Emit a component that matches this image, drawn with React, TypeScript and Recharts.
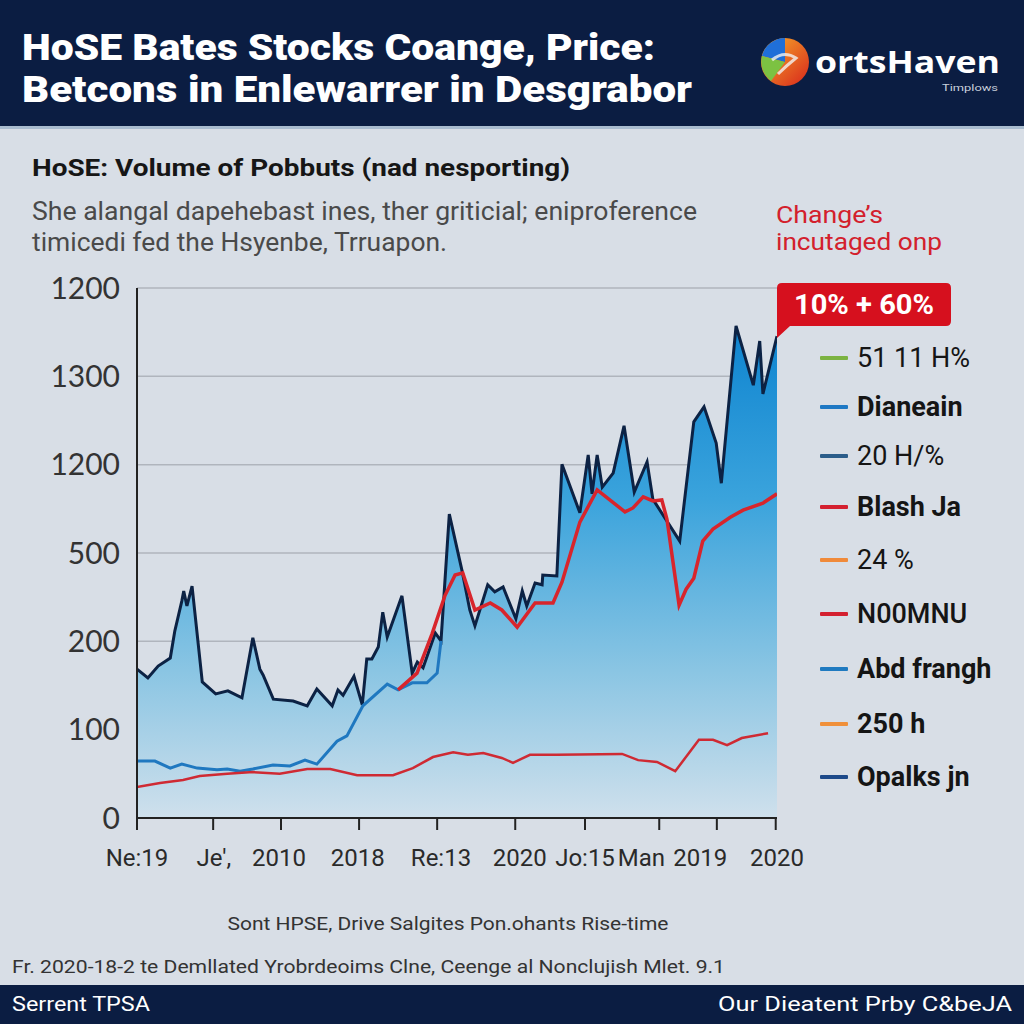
import React from "react";
import { ComposedChart, Area, Line, XAxis, YAxis, CartesianGrid, Legend } from "recharts";

// ---- data ----
const navyT = [0,1.7,3.3,5.2,5.9,7.0,7.3,7.8,8.6,10.2,12.3,14.2,16.4,18.1,19.2,19.7,21.3,24.4,26.6,28.1,30.5,31.4,32.2,33.9,35.2,35.9,36.7,37.7,38.4,39.1,41.4,43.0,43.8,44.7,46.6,47.5,48.8,50.8,52.0,52.8,54.8,55.9,57.2,59.2,60.2,60.9,62.2,63.3,63.4,65.6,66.4,69.2,70.5,71.1,71.9,72.7,74.4,76.1,77.7,79.7,80.6,84.8,87.0,88.6,90.5,91.3,93.6,96.3,97.3,97.8,100];
const navyV = [337,317,344,362,423,491,514,480,525,308,281,288,272,408,337,324,269,265,254,292,254,290,278,321,256,360,360,387,466,410,503,328,353,340,419,401,688,559,471,435,528,512,523,451,514,480,532,528,550,548,801,691,822,734,822,749,781,888,738,806,722,627,897,931,849,758,1114,980,1080,960,1091];

const blueT = [0,2.8,5.2,7.0,9.4,12.5,14.1,16.1,18.1,21.25,23.9,26.25,28.1,31.25,32.8,35.3,39.1,40.8,43.0,45.3,46.9,47.5];
const blueV = [129,129,113,122,113,109,111,106,111,120,118,131,122,174,186,254,303,290,306,306,328,401];

const redT = [40.8,43.75,46.1,48.1,49.7,50.9,52.8,55.2,57.0,59.4,62.2,65.0,66.4,69.2,71.9,76.25,77.5,79.1,80.6,82.0,82.8,84.7,85.8,87.0,88.4,90.0,92.7,94.7,97.8,100];
const redV = [290,328,417,503,550,555,471,487,471,432,487,487,534,670,743,693,702,727,718,720,677,482,518,543,627,654,681,697,713,734];

const lowRedT = [0,3.6,7.2,9.8,14.1,18.1,22.3,26.6,30.2,34.4,36.9,40.0,43.1,46.25,49.4,51.7,54.1,57.0,58.75,61.4,65.6,75.8,78.3,81.25,84.1,87.8,90.0,92.2,94.5,98.6];
const lowRedV = [70,79,86,95,100,104,100,111,111,97,97,97,113,138,149,143,147,136,125,143,143,145,131,127,106,177,177,165,181,192];

const yTickValues = [0,200,400,600,800,1000,1200];
const yTickLabels = ["0","100","200","500","1200","1300","1200"];

const xTickPositions = [0,11.9,22.5,34.7,46.9,59.1,70.0,81.6,90.6,99.8];
const xLabelPositions = [0,12.0,22.2,34.5,47.5,59.8,70.0,78.8,88.0,100];
const xLabels = ["Ne:19","Je',","2010","2018","Re:13","2020","Jo:15","Man","2019","2020"];

const legendLabels = ["51 11 H%","Dianeain","20 H/%","Blash Ja","24 %","N00MNU","Abd frangh","250 h","Opalks jn"];
const legendColors = ["#7cb342","#1e78c4","#2b5d8a","#d42030","#f08a3a","#d42030","#1f7ac0","#f0903a","#1d4a8a"];
const legendWeights = [400,700,400,700,400,500,700,700,700];
const legendRowHeights = [48,50,48,54,52,56,54,55,52];

const toData = (ts: number[], vs: number[]) => ts.map((t, i) => ({ t, v: vs[i] }));
const navyData = toData(navyT, navyV);
const blueData = toData(blueT, blueV);
const redData = toData(redT, redV);
const lowRedData = toData(lowRedT, lowRedV);

const FONT = "Roboto, 'Open Sans', sans-serif";

const renderLegend = () => (
  <div style={{ fontFamily: FONT }}>
    {legendLabels.map((lab, i) => (
      <div key={i} style={{ height: legendRowHeights[i], display: "flex", alignItems: "center" }}>
        <div style={{ width: 28, height: 4, background: legendColors[i], marginLeft: 2, marginRight: 9, borderRadius: 1 }} />
        <span style={{ fontSize: 27, color: "#151515", fontWeight: legendWeights[i], whiteSpace: "nowrap" }}>{lab}</span>
      </div>
    ))}
  </div>
);

const EmptyTick = () => <g />;

const T = (p: any) => (
  <text
    x={p.x}
    y={p.y}
    fontSize={p.size}
    fontWeight={p.weight || 400}
    fill={p.fill || "#222"}
    fontFamily={p.family || FONT}
    textAnchor={p.anchor || "start"}
    textLength={p.w}
    lengthAdjust="spacingAndGlyphs"
  >
    {p.children}
  </text>
);

export default function App() {
  return (
    <div style={{ position: "absolute", left: 0, top: 0, width: 1024, height: 1024, background: "#d8dee6", overflow: "hidden" }}>
      <ComposedChart
        width={1024}
        height={1024}
        margin={{ top: 288, right: 247, bottom: 145, left: 37 }}
        style={{ position: "absolute", left: 0, top: 0 }}
      >
        <defs>
          <linearGradient id="volFill" x1="0" y1="0" x2="0" y2="1">
            <stop offset="0" stopColor="#0e84d0" />
            <stop offset="0.35" stopColor="#3aa3dc" />
            <stop offset="0.7" stopColor="#8ac5e3" />
            <stop offset="1" stopColor="#cfe0ec" />
          </linearGradient>
        </defs>
        <CartesianGrid xAxisId="a" vertical={false} stroke="#b0b5bd" strokeWidth={1.5} />
        <XAxis
          xAxisId="b"
          type="number"
          dataKey="t"
          domain={[0, 100]}
          ticks={xLabelPositions}
          allowDataOverflow
          interval={0}
          tickFormatter={(v: number, i: number) => xLabels[i]}
          axisLine={false}
          tickLine={false}
          tickSize={6}
          tickMargin={24}
          height={60}
          tick={{ fill: "#2a2a2a", fontSize: 24, fontFamily: FONT }}
        />
        <XAxis
          xAxisId="a"
          type="number"
          dataKey="t"
          domain={[0, 100]}
          ticks={xTickPositions}
          allowDataOverflow
          interval={0}
          tick={<EmptyTick />}
          height={1}
          tickSize={12}
          axisLine={{ stroke: "#222", strokeWidth: 2 }}
          tickLine={{ stroke: "#222", strokeWidth: 2 }}
        />
        <YAxis
          type="number"
          domain={[0, 1200]}
          ticks={yTickValues}
          interval={0}
          tickFormatter={(v: number, i: number) => yTickLabels[i]}
          width={100}
          axisLine={{ stroke: "#222", strokeWidth: 2 }}
          tickLine={false}
          tickSize={0}
          tickMargin={17}
          tick={{ fill: "#333", fontSize: 30, fontFamily: "Lato, Roboto, sans-serif", fontWeight: 400 }}
        />
        <Area
          xAxisId="a"
          data={navyData}
          dataKey="v"
          type="linear"
          stroke="#0c2244"
          strokeWidth={3}
          fill="url(#volFill)"
          fillOpacity={1}
          dot={false}
          activeDot={false}
          isAnimationActive={false}
        />
        <Line xAxisId="a" data={blueData} dataKey="v" type="linear" stroke="#1f78c0" strokeWidth={3} dot={false} activeDot={false} isAnimationActive={false} />
        <Line xAxisId="a" data={lowRedData} dataKey="v" type="linear" stroke="#cf2a33" strokeWidth={2.5} dot={false} activeDot={false} isAnimationActive={false} />
        <Line xAxisId="a" data={redData} dataKey="v" type="linear" stroke="#d8252c" strokeWidth={3.5} dot={false} activeDot={false} isAnimationActive={false} />
        <Legend
          layout="vertical"
          align="center"
          verticalAlign="middle"
          content={renderLegend}
          wrapperStyle={{ position: "absolute", left: 818, top: 334, width: 206 }}
        />
      </ComposedChart>

      <svg width={1024} height={1024} style={{ position: "absolute", left: 0, top: 0, pointerEvents: "none" }}>
        <defs>
          <linearGradient id="logoG" x1="0" y1="0" x2="1" y2="1">
            <stop offset="0" stopColor="#f7b02a" />
            <stop offset="1" stopColor="#d8261c" />
          </linearGradient>
        </defs>
        {/* header */}
        <rect x={0} y={0} width={1024} height={126} fill="#0b1d42" />
        <rect x={0} y={126} width={1024} height={3} fill="#a9bccf" />
        <T x={22} y={60} size={36} weight={900} fill="#ffffff" w={633}>HoSE Bates Stocks Coange, Price:</T>
        <T x={22} y={102} size={36} weight={900} fill="#ffffff" w={670}>Betcons in Enlewarrer in Desgrabor</T>
        <circle cx={785} cy={62} r={24} fill="url(#logoG)" />
        <path d="M785,62 L785,38 A24,24 0 0 0 762,56 Z" fill="#1f6fd8" />
        <path d="M785,62 L762,56 A24,24 0 0 0 771,81 Z" fill="#7cc242" />
        <path d="M772,60 Q784,50 796,58 Q786,66 778,74" stroke="#f3f3f3" strokeWidth={3} fill="none" opacity={0.8} />
        <T x={815} y={73} size={30} weight={700} fill="#ffffff" w={185} family="'Open Sans', Roboto, sans-serif">ortsHaven</T>
        <T x={942} y={91} size={9} fill="#c8d0dc" w={56}>Timplows</T>

        {/* subtitle & description */}
        <T x={32} y={176} size={24} weight={700} fill="#161616" w={538}>HoSE: Volume of Pobbuts (nad nesporting)</T>
        <T x={32} y={220} size={25} fill="#4a4a4a" w={665}>She alangal dapehebast ines, ther griticial; eniproference</T>
        <T x={32} y={251} size={25} fill="#4a4a4a" w={415}>timicedi fed the Hsyenbe, Trruapon.</T>
        <T x={776} y={223} size={24} fill="#d3202c" w={107}>Change’s</T>
        <T x={776} y={250} size={24} fill="#d3202c" w={166}>incutaged onp</T>

        {/* callout */}
        <path d="M782,283 H946 Q951,283 951,288 V321 Q951,326 946,326 H790 L777,338 V288 Q777,283 782,283 Z" fill="#d6101e" />
        <T x={864} y={314} size={27} weight={700} fill="#ffffff" anchor="middle" w={140}>10% + 60%</T>

        {/* notes */}
        <T x={448} y={930} size={19} fill="#333" anchor="middle" w={441}>Sont HPSE, Drive Salgites Pon.ohants Rise-time</T>
        <T x={12} y={973} size={19} fill="#333" w={713}>Fr. 2020-18-2 te Demllated Yrobrdeoims Clne, Ceenge al Nonclujish Mlet. 9.1</T>

        {/* footer */}
        <rect x={0} y={985} width={1024} height={39} fill="#0b1d42" />
        <T x={12} y={1011} size={20} fill="#ffffff" w={138}>Serrent TPSA</T>
        <T x={1012} y={1011} size={20} fill="#ffffff" anchor="end" w={294}>Our Dieatent Prby C&amp;beJA</T>
      </svg>
    </div>
  );
}
